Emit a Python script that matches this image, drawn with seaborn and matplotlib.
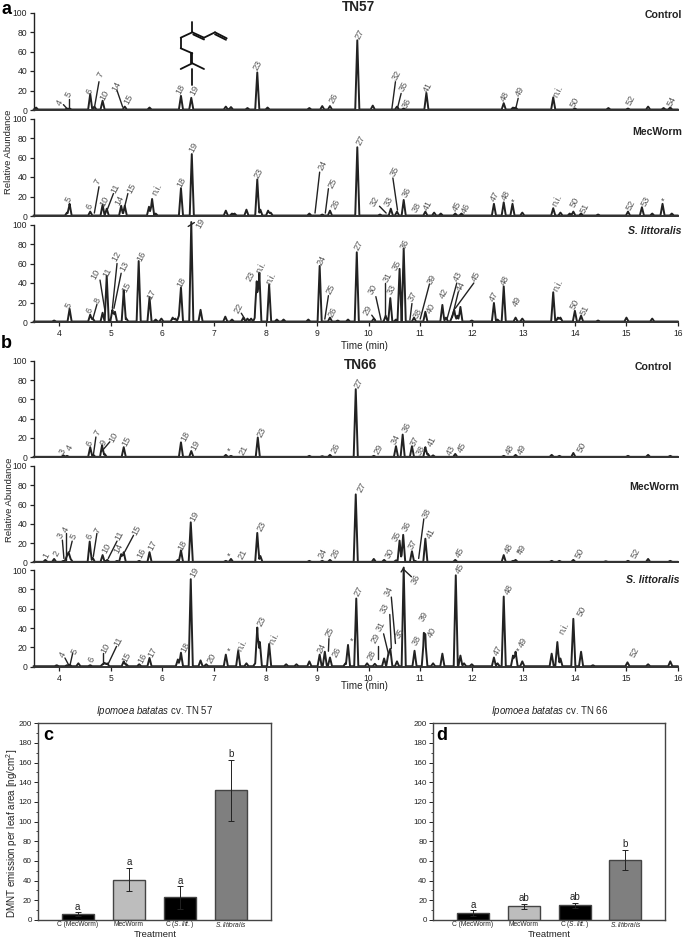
import numpy as np
import pandas as pd
import matplotlib
matplotlib.use("Agg")
import matplotlib.pyplot as plt
from matplotlib.lines import Line2D
import seaborn as sns

sns.set_theme(style="ticks")
plt.rcParams['font.family'] = ['Liberation Sans', 'DejaVu Sans']
plt.rcParams['mathtext.fontset'] = 'custom'
plt.rcParams['mathtext.rm'] = 'Liberation Sans'
plt.rcParams['mathtext.it'] = 'Liberation Sans:italic'

# ---------- chromatogram peaks: retention time (min), relative abundance ----------
a1_rt = [3.55,4.15,4.2,4.6,4.68,4.84,5.27,5.75,6.36,6.56,7.23,7.33,7.65,7.84,8.04,8.85,9.1,9.25,9.78,10.08,10.55,10.68,11.12,12.62,12.8,12.85,13.58,14.0,14.65,15.03,15.42,15.72,15.85]
a1_h = [2,1,1,16,3,9,3,2,14,12,3,2.5,1.5,38,2,1.5,3.5,3.5,71,4,3,1,17,6.5,2,2,12.5,1,1.5,1,3,1.5,2]
a2_rt = [4.15,4.2,4.6,4.84,4.92,5.2,5.27,5.74,5.8,5.87,6.36,6.57,7.23,7.35,7.4,7.63,7.84,7.9,8.05,8.1,8.85,9.1,9.25,9.78,10.22,10.43,10.55,10.68,11.1,11.27,11.4,11.68,11.8,12.43,12.62,12.79,12.98,13.58,13.72,13.9,13.97,14.12,14.45,15.03,15.3,15.5,15.7,15.88]
a2_h = [3,12,4,11,7,10,10,9,17,2,28,63,5,2,2,6,37,6,5,3,2,1,5,70,1,7,4,16,4,3,2,2,2,12,13.5,12,3,7.5,3,2,4,2,1,4,8.5,2,12,2]
a3_rt = [3.9,4.2,4.6,4.65,4.84,4.92,5.03,5.08,5.25,5.3,5.54,5.75,5.87,5.98,6.2,6.25,6.32,6.36,6.56,6.74,7.22,7.35,7.57,7.65,7.72,7.8,7.83,7.88,8.07,8.22,8.35,8.83,9.05,9.25,9.4,9.6,9.77,10.1,10.33,10.42,10.53,10.6,10.68,10.88,11.1,11.43,11.5,11.62,11.66,11.72,11.78,12.0,12.43,12.5,12.62,12.85,12.98,13.58,13.67,13.72,14.0,14.12,14.45,15.0,15.5]
a3_h = [1,13,7,3,9,47,12,10,32,3,62,25,2,3,4,3,6,35,102,12,5,2,4,3,3,5,40,50,38,2,2,2,57,4,1,2,71,3,6,24,2,54,75,4,10,17,4,5,12,6,15,1,19,2,36,4,3,30,4,4,11,6,1,4,3]
b1_rt = [4.08,4.15,4.6,4.66,4.83,4.88,5.25,6.36,6.56,7.23,7.33,7.85,8.85,9.1,9.25,9.75,10.1,10.53,10.66,10.84,11.1,11.15,11.25,11.68,12.62,12.85,13.55,13.7,13.97,15.03,15.42,15.85]
b1_h = [1.5,1,10,2,12,3,10,15,6,2,1,20,1,0.7,2,70,1,11,23,11,10,3,1.5,3,1,2,2,1,4,1,2,1]
b2_rt = [3.73,3.9,4.08,4.14,4.18,4.22,4.59,4.65,4.84,4.93,5.12,5.2,5.25,5.55,5.75,6.3,6.36,6.55,7.23,7.33,7.84,7.9,8.85,9.1,9.25,9.75,10.1,10.3,10.53,10.6,10.67,10.84,10.9,11.1,11.68,12.62,12.8,12.85,13.55,13.7,13.97,14.6,15.03,15.42,15.85]
b2_h = [2,3,1,5,10,3,21,4,7,2,1,8,10,1,10,2,12,41,1,3,30,6,1,1,2,70,3,2,1.5,22,28,11,1,24,2,7,1,2,1,1,2,0.6,1,3,1]
b3_rt = [3.95,4.15,4.2,4.37,4.6,4.84,4.88,4.93,5.25,5.3,5.55,5.75,6.3,6.36,6.55,6.74,6.85,7.23,7.47,7.63,7.8,7.84,7.89,8.07,8.4,8.6,8.85,9.05,9.15,9.25,9.55,9.6,9.76,9.97,10.12,10.3,10.38,10.42,10.55,10.68,10.89,11.07,11.1,11.25,11.43,11.69,11.78,11.85,12.0,12.43,12.5,12.62,12.8,12.85,12.98,13.55,13.66,13.72,13.97,14.12,14.35,15.02,15.42,15.85]
b3_h = [1,1,1.5,3,1,2,3.5,3,5,2,2,8.5,7,14,90,6,2,12,16,3,3,40,25,23,2,2,5,12,15,9,3,22,70,3,2.5,8,12,18,5,102,16,28,26,3,13,94,11,3,2,9,3,72,11,15,5,13,25,8,49,15,1,4,2,5]

# ---------- peak annotations: text, time, abundance ----------
a1_labels = [("4",4.01,8),("5",4.19,16),("6",4.58,19),("7",4.80,36),("10",4.88,15),("14",5.11,24),("15",5.34,11),("18",6.36,21),("19",6.62,20),("23",7.84,46),("26",9.33,12),("27",9.82,78),("32",10.55,36),("35",10.68,24),("36",10.74,7),("41",11.15,23),("48",12.64,14),("49",12.94,19),("n.i.",13.67,19),("50",14.0,8),("52",15.09,10),("54",15.88,9)]
a2_labels = [("5",4.19,17),("6",4.58,10),("7",4.75,35),("10",4.88,15),("11",5.09,28),("14",5.16,16),("15",5.40,28),("n.i.",5.9,27),("18",6.38,35),("19",6.61,70),("23",7.86,44),("24",9.1,52),("25",9.31,34),("26",9.37,12),("27",9.84,78),("32",10.12,15),("35",10.5,46),("33",10.4,15),("36",10.74,24),("38",10.94,9),("41",11.15,11),("45",11.71,10),("46",11.89,8),("47",12.46,20),("48",12.67,21),("*",12.8,14),("n.i.",13.65,16),("50",13.99,14),("51",14.19,8),("52",15.09,11),("53",15.37,15),("*",15.71,15)]
a3_labels = [("5",4.19,17),("6",4.58,12),("8",4.75,22),("10",4.7,49),("11",4.94,51),("12",5.11,67),("13",5.27,57),("15",5.31,36),("16",5.59,67),("17",5.79,28),("18",6.37,41),("19",6.73,101),("22",7.48,14),("23",7.72,47),("n.i.",7.92,56),("n.i.",8.11,45),("24",9.08,63),("25",9.27,34),("26",9.3,10),("27",9.81,79),("29",9.98,12),("30",10.08,33),("31",10.37,46),("33",10.45,33),("35",10.55,58),("36",10.71,80),("37",10.86,26),("38",10.95,9),("39",11.23,44),("40",11.21,14),("42",11.47,29),("43",11.73,47),("44",11.79,37),("45",12.09,47),("47",12.44,26),("48",12.65,43),("49",12.88,21),("n.i.",13.67,38),("50",13.99,18),("51",14.2,12)]
b1_labels = [("3",4.06,6),("4",4.21,10),("6",4.58,14),("7",4.74,26),("9",4.85,15),("10",5.06,21),("15",5.31,17),("18",6.45,22),("19",6.64,12),("*",7.28,6),("21",7.57,7),("23",7.93,26),("26",9.37,9),("27",9.81,77),("29",10.2,8),("34",10.52,19),("36",10.75,31),("37",10.89,17),("38",11.01,7),("41",11.23,17),("43",11.59,7),("45",11.82,10),("48",12.75,8),("49",12.97,8),("50",14.14,10)]
b2_labels = [("1",3.74,7),("2",3.95,9),("3",4.03,28),("4",4.12,34),("5",4.28,27),("6",4.58,27),("7",4.74,33),("10",4.91,15),("11",5.16,28),("14",5.14,14),("15",5.49,33),("16",5.6,9),("17",5.81,18),("18",6.39,18),("19",6.62,48),("*",7.28,6),("21",7.55,8),("23",7.93,37),("24",9.1,9),("26",9.37,9),("27",9.86,78),("30",10.41,9),("35",10.54,27),("36",10.75,37),("37",10.86,19),("38",11.13,51),("41",11.2,30),("45",11.78,10),("48",12.72,14),("*",12.88,9),("49",12.98,13),("50",14.1,9),("52",15.19,9)]
b3_labels = [("4",4.06,12),("5",4.3,16),("6",4.63,7),("10",4.89,19),("11",5.14,26),("15",5.31,10),("16",5.61,9),("17",5.81,15),("18",6.45,20),("19",6.62,98),("20",6.95,9),("*",7.28,16),("n.i.",7.55,22),("23",7.92,47),("n.i.",8.17,29),("24",9.09,19),("25",9.25,36),("26",9.38,15),("*",9.66,26),("27",9.81,78),("28",10.06,12),("29",10.14,29),("31",10.23,42),("33",10.31,60),("34",10.39,78),("35",10.61,34),("36",10.91,90),("38",10.94,27),("39",11.07,52),("40",11.23,36),("45",11.78,102),("47",12.51,17),("48",12.72,80),("*",12.88,16),("49",12.99,25),("n.i.",13.8,40),("50",14.14,57),("52",15.17,15)]

# ---------- leader lines: time, abundance -> time, abundance ----------
a1_leaders = [(4.08,5.5,4.14,2),(4.19,11,4.19,2),(4.77,29,4.68,2),(5.12,20,5.23,3),(10.52,29,10.45,1),(10.63,17,10.56,2),(12.9,12,12.86,3)]
a2_leaders = [(4.77,30,4.68,3),(5.05,23,4.92,5),(5.33,23,5.27,10),(9.05,45,8.96,3),(9.22,28,9.16,3),(10.47,39,10.56,6),(10.21,10,10.34,3)]
a3_leaders = [(4.73,18,4.65,3),(4.79,43,4.89,10),(5.12,60,5.03,14),(5.2,50,5.06,14),(9.22,27,9.15,3),(7.53,9,7.6,3),(10.06,7,10.13,2),(10.14,26,10.24,2),(10.32,40,10.32,7),(10.84,19,10.8,2),(11.18,39,11.0,3),(11.71,40,11.52,3),(11.74,31,11.62,5),(12.04,40,11.68,14),(6.5,98,6.62,102)]
b1_leaders = [(4.71,21,4.66,2),(4.98,16,4.82,6)]
b2_leaders = [(4.06,23,4.09,4),(4.13,30,4.13,2),(4.25,22,4.2,11),(4.73,30,4.66,6),(5.12,22,4.95,4),(5.44,28,5.27,11),(11.07,45,10.97,4)]
b3_leaders = [(4.11,9,4.18,2),(4.26,14,4.21,2),(4.85,14,4.85,3),(5.11,21,4.95,3),(9.23,29,9.22,16),(10.19,21,10.19,8),(10.29,34,10.39,12),(10.41,54,10.44,19),(10.44,72,10.52,24),(10.67,101,10.83,93),(10.63,98,10.68,102)]

# ---------- bar charts ----------
treatments = ["C (MecWorm)", "MecWorm", "C ($\\mathit{S.litt.}$)", "$\\mathit{S.littoralis}$"]
bar_colors = ["#000000", "#bdbdbd", "#000000", "#7f7f7f"]
c_values = [6, 41, 23, 132]
c_errors = [2, 12, 11.5, 31]
c_letters = ["a", "a", "a", "b"]
d_values = [7, 14, 15, 61]
d_errors = [3, 2.5, 2.5, 10.5]
d_letters = ["a", "ab", "ab", "b"]

# molecule skeleton (figure pixels)
mol_bonds = [(192.3,21.7,192.3,32.3),(192.3,32.3,204,37.7),(193.3,34.5,204,39.5),(204,37.7,215,32.3),(215,32.3,226.7,38.3),(215,34.3,226,39.8),
             (192.3,32.3,180.7,37.7),(180.7,37.7,180.7,48.3),(180.7,48.3,192.3,53.3),(192.3,53.3,192.3,63.3),(190.5,53.3,190.5,63.3),(192.3,63.3,180.7,69),(192.3,63.3,204,69),(192.3,69,192.3,85)]

W, H = 685, 939
fig = plt.figure(figsize=(W/100, H/100), dpi=100)
TC = "#222222"
LC = "#555555"
SW = 0.04


def make_ax(left, right, top, bottom):
    return fig.add_axes([left/W, 1-bottom/H, (right-left)/W, (bottom-top)/H])


def chrom(ax, rt, h, labels, leaders, last):
    grid = np.unique(np.concatenate([[3.5, 16.0], np.array(rt)-SW, rt, np.array(rt)+SW]))
    y = np.full(grid.shape, 0.5)
    for r, v in zip(rt, h):
        y = y + np.interp(grid, [r-SW, r, r+SW], [0, v, 0])
    sns.lineplot(x=grid, y=y, ax=ax, color=TC, lw=1.4, estimator=None, sort=False, errorbar=None)
    ax.lines[-1].set_clip_on(False)
    ax.set_xlim(3.5, 16)
    ax.set_ylim(0, 100)
    ax.set_xlabel("")
    ax.set_ylabel("")
    ax.set_yticks(range(0, 101, 20))
    ax.tick_params(axis='y', labelsize=6.2, length=3, width=0.9, pad=1.5, colors="#222222")
    ax.patch.set_alpha(0)
    sns.despine(ax=ax, top=True, right=True)
    ax.spines['left'].set_linewidth(1.0)
    ax.spines['bottom'].set_linewidth(1.4)
    ax.spines['left'].set_color("#222222")
    ax.spines['bottom'].set_color("#333333")
    if last:
        ax.set_xticks(range(4, 17))
        ax.tick_params(axis='x', labelsize=6.2, length=3, width=0.9, pad=2, colors="#222222")
    else:
        ax.set_xticks([])
    for t, x, v in labels:
        ax.text(x, v, t, rotation=62 if t != "*" else 0, ha='center', va='center', fontsize=6.6, color=LC, clip_on=False)
    for x0, y0, x1, y1 in leaders:
        ax.plot([x0, x1], [y0, y1], color=TC, lw=1.0, clip_on=False)


ax_a1 = make_ax(33.5, 678, 12.5, 110)
ax_a2 = make_ax(33.5, 678, 118.5, 216)
ax_a3 = make_ax(33.5, 678, 224.5, 322)
ax_b1 = make_ax(33.5, 678, 360.7, 457.3)
ax_b2 = make_ax(33.5, 678, 466, 562.3)
ax_b3 = make_ax(33.5, 678, 570, 666.7)
chrom(ax_a1, a1_rt, a1_h, a1_labels, a1_leaders, False)
chrom(ax_a2, a2_rt, a2_h, a2_labels, a2_leaders, False)
chrom(ax_a3, a3_rt, a3_h, a3_labels, a3_leaders, True)
chrom(ax_b1, b1_rt, b1_h, b1_labels, b1_leaders, False)
chrom(ax_b2, b2_rt, b2_h, b2_labels, b2_leaders, False)
chrom(ax_b3, b3_rt, b3_h, b3_labels, b3_leaders, True)


def bars(ax, values, errors, letters, title):
    df = pd.DataFrame({"t": treatments, "v": values})
    sns.barplot(data=df, x="t", y="v", hue="t", palette=bar_colors, legend=False, ax=ax,
                width=0.63, edgecolor="#444444", linewidth=1.0, errorbar=None, dodge=False)
    ax.errorbar(range(4), values, yerr=errors, fmt='none', ecolor="#222222", elinewidth=0.7, capsize=2.3, capthick=0.7)
    for i, (v, e, s) in enumerate(zip(values, errors, letters)):
        ax.text(i, v+e+0.5, s, ha='center', va='bottom', fontsize=7, color="#222222")
    ax.set_xlim(-0.78, 3.78)
    ax.set_ylim(0, 200)
    ax.set_yticks(range(0, 201, 20))
    ax.set_yticks(range(10, 200, 20), minor=True)
    ax.tick_params(axis='y', which='major', labelsize=5.8, length=3, width=0.7, pad=1.5, colors="#222222")
    ax.tick_params(axis='y', which='minor', length=1.8, width=0.6, colors="#222222")
    ax.tick_params(axis='x', labelsize=4.8, length=0, pad=3.2, colors="#222222")
    for lab in ax.get_xticklabels():
        lab.set_va('center')
    for s in ax.spines.values():
        s.set_linewidth(1.0)
        s.set_color("#444444")
    ax.set_xlabel("")
    ax.set_ylabel("")
    ax.set_title(title, fontsize=6.9, pad=7, color="#222222")


ax_c = make_ax(38, 270.7, 723.3, 920)
ax_d = make_ax(433.3, 665, 723.3, 920)
bars(ax_c, c_values, c_errors, c_letters, "$\\mathit{Ipomoea\\ batatas}$ cv. TN 57")
bars(ax_d, d_values, d_errors, d_letters, "$\\mathit{Ipomoea\\ batatas}$ cv. TN 66")


def ftext(x, y, s, **kw):
    kw.setdefault('color', '#222222')
    fig.text(x/W, 1-y/H, s, va='center', **kw)


ftext(7, 9, "a", fontsize=13, fontweight='bold', ha='center', color='black')
ftext(6, 344, "b", fontsize=13, fontweight='bold', ha='center', color='black')
ftext(48, 736, "c", fontsize=13, fontweight='bold', ha='center', color='black')
ftext(442, 735, "d", fontsize=13, fontweight='bold', ha='center', color='black')
ftext(358, 7, "TN57", fontsize=9.8, fontweight='bold', ha='center')
ftext(360, 365, "TN66", fontsize=9.8, fontweight='bold', ha='center')
for x, y, s, it in [(682, 15, "Control", False), (682, 132, "MecWorm", False), (682, 231, "S. littoralis", True),
                    (672, 367, "Control", False), (679, 487, "MecWorm", False), (680, 580, "S. littoralis", True)]:
    ftext(x, y, s, fontsize=7.6, fontweight='bold', ha='right', style='italic' if it else 'normal')
ftext(9, 152, "Relative Abundance", fontsize=6.8, rotation=90, ha='center')
ftext(10, 500, "Relative Abundance", fontsize=6.8, rotation=90, ha='center')
ftext(364, 346, "Time (min)", fontsize=7.1, ha='center')
ftext(364, 686, "Time (min)", fontsize=7.1, ha='center')
ftext(12, 833, "DMNT emission per leaf area [ng/cm$^2$]", fontsize=7.1, rotation=90, ha='center')
ftext(155, 934.5, "Treatment", fontsize=6.8, ha='center')
ftext(549, 934.5, "Treatment", fontsize=6.8, ha='center')

for x0, y0, x1, y1 in mol_bonds:
    fig.add_artist(Line2D([x0/W, x1/W], [1-y0/H, 1-y1/H], color="#111111", lw=1.3))

fig.savefig("out.png", dpi=100)
